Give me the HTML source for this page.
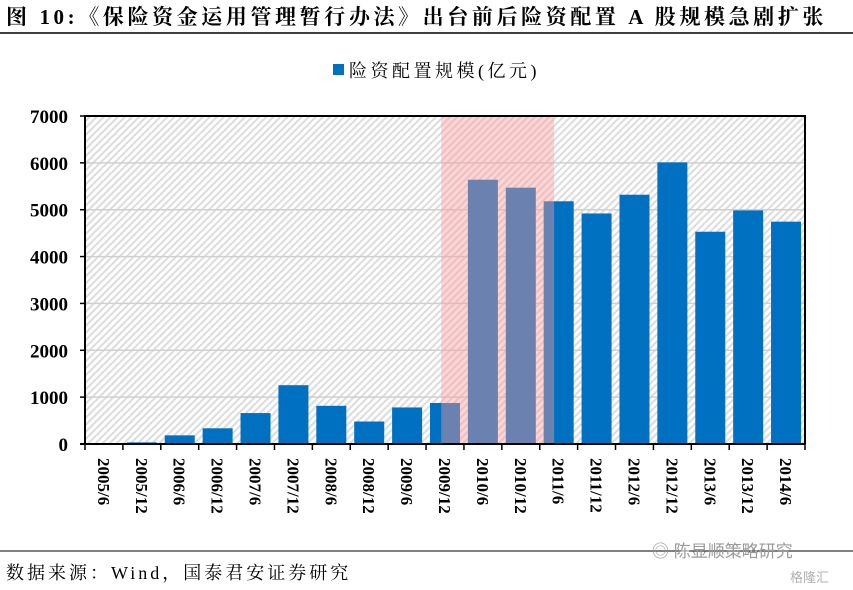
<!DOCTYPE html>
<html><head><meta charset="utf-8"><style>
body{margin:0;background:#fff;}
svg{display:block;font-family:"Liberation Serif","Noto Serif CJK SC",serif;}
</style></head><body>
<svg width="853" height="590" viewBox="0 0 853 590">
<defs>
<pattern id="hatch" width="5" height="5" patternUnits="userSpaceOnUse" patternTransform="rotate(45)">
<rect width="5" height="5" fill="#fff"/><rect width="2" height="5" fill="#dcdcdc"/>
</pattern>
</defs>
<text x="6" y="24" font-size="21" font-weight="bold" letter-spacing="3.6">图 10:《保险资金运用管理暂行办法》出台前后险资配置 A 股规模急剧扩张</text>
<line x1="0" y1="33" x2="853" y2="33" stroke="#000" stroke-width="1.5"/>
<g>
<rect x="333" y="64" width="11" height="11" fill="#0070C0"/>
<text x="349" y="77" font-size="18" letter-spacing="3.5">险资配置规模(亿元)</text>
</g>
<rect x="85" y="116" width="720" height="328" fill="url(#hatch)"/>
<g id="grid"></g>
<g id="bars"></g>
<rect id="hl" fill="rgba(255,152,152,0.42)"/>
<g id="axes"></g>
<line x1="0" y1="551" x2="853" y2="551" stroke="#000" stroke-width="1"/>
<text x="6" y="579" font-size="18" letter-spacing="3">数据来源：Wind，国泰君安证券研究</text>
<text x="652" y="557" font-size="17" fill="#9a9a9a" font-family="Liberation Sans,Noto Sans CJK SC,sans-serif">◎ 陈显顺策略研究</text>
<text x="790" y="582" font-size="13" fill="#b0b0b0" font-family="Liberation Sans,Noto Sans CJK SC,sans-serif">格隆汇</text>
</svg>
<script>
const categories=["2005/6","2005/12","2006/6","2006/12","2007/6","2007/12","2008/6","2008/12","2009/6","2009/12","2010/6","2010/12","2011/6","2011/12","2012/6","2012/12","2013/6","2013/12","2014/6"];
const values=[0,35,185,335,660,1255,815,480,780,875,5640,5470,5180,4920,5320,6010,4530,4985,4745];
const yTicks=[0,1000,2000,3000,4000,5000,6000,7000];
const highlightRange=["2009/12","2011/6"];
const NS="http://www.w3.org/2000/svg";
const L=85,R=805,T=116,B=444,yMax=7000;
const cw=(R-L)/categories.length;
const y=v=>B-(v/yMax)*(B-T);
const x=i=>L+i*cw;
function mk(tag,attrs,parent){const e=document.createElementNS(NS,tag);for(const k in attrs)e.setAttribute(k,attrs[k]);parent.appendChild(e);return e;}
const grid=document.getElementById('grid'),bars=document.getElementById('bars'),axes=document.getElementById('axes');
yTicks.forEach(t=>{
 if(t>0&&t<yMax){const g=mk('line',{x1:L,x2:R,y1:y(t),y2:y(t),stroke:'#d0d0d0','stroke-width':1.5},grid);
 
 }
 const tl=mk('text',{x:L-17,y:y(t)+7,'font-size':19,'font-weight':'bold','text-anchor':'end'},axes);
 tl.textContent=t;
 
 
 const tk=mk('line',{x1:L-5,x2:L,y1:y(t),y2:y(t),stroke:'#000','stroke-width':1.5},axes);
 
 
});
values.forEach((v,i)=>{
 const bw=30;
 const r=mk('rect',{x:x(i)+(cw-bw)/2,y:y(v),width:bw,height:B-y(v),fill:'#0070C0'},bars);
 
 
});
const h0=categories.indexOf(highlightRange[0]),h1=categories.indexOf(highlightRange[1]);
const hl=document.getElementById('hl');
const hx0=x(h0)+cw*0.4,hx1=x(h1)+cw*0.38;
hl.setAttribute('x',hx0);hl.setAttribute('y',T);hl.setAttribute('width',hx1-hx0);hl.setAttribute('height',B-T);
const fr=mk('polyline',{points:`${L},${B} ${L},${T} ${R},${T} ${R},${B}`,fill:'none',stroke:'#000','stroke-width':2},axes);


const xa=mk('line',{x1:L-5,x2:R,y1:B,y2:B,stroke:'#000','stroke-width':2},axes);


categories.forEach((c,i)=>{
 const tk=mk('line',{x1:x(i),x2:x(i),y1:B,y2:B+6,stroke:'#000','stroke-width':1.5},axes);
 
 
 const cx=x(i)+cw/2;
 const t=mk('text',{x:0,y:0,'font-size':17,'font-weight':'bold',transform:`translate(${cx-6},${B+14}) rotate(90)`},axes);
 t.textContent=c;
 
 
});
const lt=mk('line',{x1:R,x2:R,y1:B,y2:B+6,stroke:'#000','stroke-width':1.5},axes);


</script>
</body></html>
